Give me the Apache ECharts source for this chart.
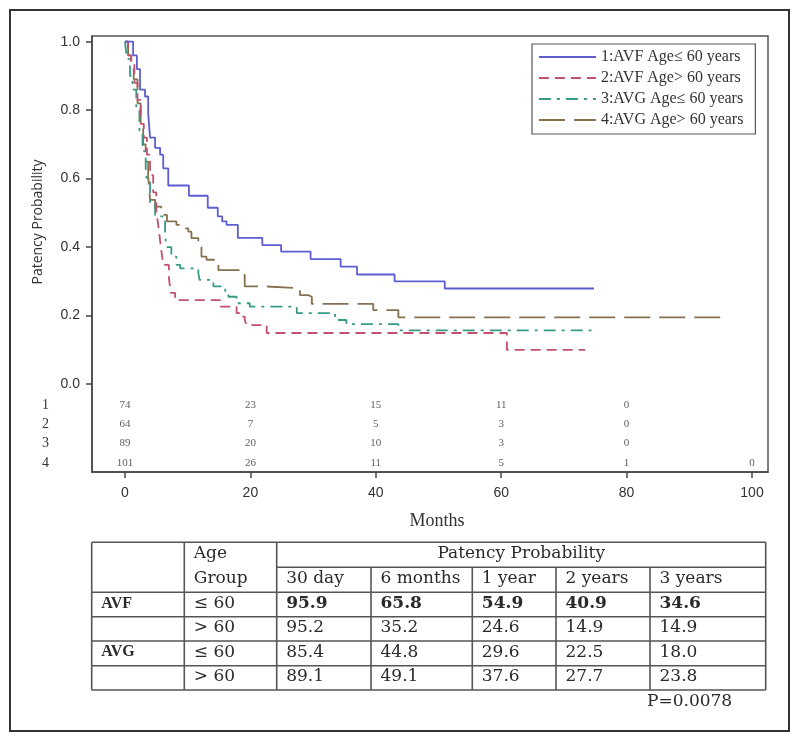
<!DOCTYPE html>
<html>
<head>
<meta charset="utf-8">
<script src="https://cdn.jsdelivr.net/npm/echarts@6/dist/echarts.min.js"></script>
<style>
html,body{margin:0;padding:0;background:#fff;}
#chart{width:800px;height:741px;}
</style>
</head>
<body>
<div id="chart"></div>
<script>
// ---- Kaplan-Meier curves (months, patency probability) ----
const seriesNames = ['1:AVF Age≤ 60 years', '2:AVF Age> 60 years', '3:AVG Age≤ 60 years', '4:AVG Age> 60 years'];

const avfYoungT = [0, 1.3, 1.9, 2.4, 3.2, 3.7, 4.0, 4.8, 5.6, 6.1, 6.9, 10.2, 13.2, 14.8, 15.5, 16.2, 18.0, 21.9, 24.9, 29.6, 34.4, 37.0, 43.0, 51.0, 74.8];
const avfYoungS = [1.0, 0.96, 0.92, 0.86, 0.84, 0.79, 0.72, 0.69, 0.67, 0.63, 0.58, 0.55, 0.515, 0.49, 0.475, 0.465, 0.427, 0.406, 0.387, 0.365, 0.343, 0.32, 0.30, 0.279, 0.279];

const avfOldT = [0, 0.5, 1.0, 1.5, 2.0, 2.5, 3.0, 3.5, 4.0, 4.5, 5.0, 5.3, 5.6, 5.8, 6.1, 7.0, 7.3, 8.0, 15.2, 17.8, 18.3, 19.1, 19.4, 22.6, 60.9, 73.4];
const avfOldS = [1.0, 0.96, 0.94, 0.88, 0.83, 0.76, 0.72, 0.67, 0.61, 0.56, 0.505, 0.465, 0.42, 0.39, 0.348, 0.31, 0.266, 0.245, 0.226, 0.207, 0.197, 0.187, 0.172, 0.149, 0.10, 0.10];

const avgYoungT = [0, 0.3, 0.8, 1.2, 1.8, 2.3, 2.8, 3.3, 3.5, 4.0, 4.8, 6.4, 6.6, 7.4, 8.2, 8.8, 11.7, 11.9, 14.1, 16.0, 16.5, 17.8, 19.9, 27.4, 33.5, 35.3, 43.6, 74.4];
const avgYoungS = [1.0, 0.95, 0.90, 0.86, 0.80, 0.74, 0.68, 0.63, 0.59, 0.53, 0.49, 0.435, 0.40, 0.372, 0.348, 0.338, 0.324, 0.304, 0.285, 0.27, 0.255, 0.236, 0.226, 0.207, 0.187, 0.175, 0.157, 0.157];

const avgOldT = [0, 0.5, 1.0, 1.4, 2.0, 2.5, 2.9, 3.3, 3.7, 4.0, 4.8, 5.8, 6.7, 8.2, 8.8, 10.1, 10.6, 11.7, 12.2, 13.0, 14.4, 14.9, 18.5, 19.1, 22.6, 27.9, 29.2, 29.8, 39.6, 43.6, 96.2];
const avgOldS = [1.0, 0.96, 0.93, 0.89, 0.82, 0.76, 0.70, 0.65, 0.606, 0.538, 0.518, 0.494, 0.475, 0.465, 0.455, 0.445, 0.426, 0.40, 0.372, 0.363, 0.353, 0.333, 0.319, 0.285, 0.28, 0.26, 0.255, 0.234, 0.216, 0.195, 0.195];

// ---- number at risk ----
const riskTimes = [0, 20, 40, 60, 80, 100];
const riskRowLabels = ['1', '2', '3', '4'];
const risk1 = [74, 23, 15, 11, 0];
const risk2 = [64, 7, 5, 3, 0];
const risk3 = [89, 20, 10, 3, 0];
const risk4 = [101, 26, 11, 5, 1, 0];

// ---- axis ticks ----
const yTicks = [0, 0.2, 0.4, 0.6, 0.8, 1.0];
const xTicks = [0, 20, 40, 60, 80, 100];

// ---- summary table ----
const tableGroups = ['AVF', '', 'AVG', ''];
const tableAges = ['≤ 60', '> 60', '≤ 60', '> 60'];
const tableTimepoints = ['30 day', '6 months', '1 year', '2 years', '3 years'];
const tableRow1 = ['95.9', '65.8', '54.9', '40.9', '34.6'];
const tableRow2 = ['95.2', '35.2', '24.6', '14.9', '14.9'];
const tableRow3 = ['85.4', '44.8', '29.6', '22.5', '18.0'];
const tableRow4 = ['89.1', '49.1', '37.6', '27.7', '23.8'];
const pValueText = 'P=0.0078';

// ================= build =================
const colors = ['#5d5dd2', '#c4506c', '#389a86', '#85704f'];
const dashes = ['solid', [10, 6], [12, 6, 3, 6], [26, 9]];
const curves = [
  [avfYoungT, avfYoungS], [avfOldT, avfOldS], [avgYoungT, avgYoungS], [avgOldT, avgOldS]
];

// at-risk rows placed below 0 on the value axis
const riskRowY = [-0.061, -0.1175, -0.174, -0.2305];
const riskRows = [risk1, risk2, risk3, risk4];
const riskData = [];
riskRows.forEach((row, r) => {
  row.forEach((n, i) => riskData.push([riskTimes[i], riskRowY[r], n]));
});

const lineSeries = curves.map((c, k) => ({
  name: seriesNames[k],
  type: 'line',
  step: 'end',
  symbol: 'none',
  data: c[0].map((t, i) => [t, c[1][i]]),
  lineStyle: { color: colors[k], width: 1.8, type: dashes[k] },
  itemStyle: { color: colors[k] },
  z: 5 - k
}));

const serif = "'DejaVu Serif', serif";
const tnr = "'Liberation Serif', serif";

// table graphics
const colX = [91.7, 184.3, 276.7, 371, 472.3, 556, 650, 765.7];
const rowY = [542.3, 567.3, 592.3, 616.7, 641, 665.7, 690];
const g = [];
const lineStyleT = { stroke: '#555', lineWidth: 1.6 };
function hline(x1, x2, y) { g.push({ type: 'line', shape: { x1, y1: y, x2, y2: y }, style: lineStyleT, silent: true }); }
function vline(x, y1, y2) { g.push({ type: 'line', shape: { x1: x, y1, x2: x, y2 }, style: lineStyleT, silent: true }); }
function txt(s, x, y, opts) {
  g.push({ type: 'text', x, y, silent: true,
    style: Object.assign({ text: s, font: '17px ' + serif, fill: '#2a2a2a', textAlign: 'left', textVerticalAlign: 'middle' }, opts || {}) });
}
hline(colX[0], colX[7], rowY[0]);
hline(colX[2], colX[7], rowY[1]);
for (let r = 2; r < rowY.length; r++) hline(colX[0], colX[7], rowY[r]);
vline(colX[0], rowY[0], rowY[6]);
vline(colX[1], rowY[0], rowY[6]);
vline(colX[2], rowY[0], rowY[6]);
for (let c = 3; c < 7; c++) vline(colX[c], rowY[1], rowY[6]);
vline(colX[7], rowY[0], rowY[6]);
const pad = 9.5;
const mid = (a, b) => (a + b) / 2;
txt('Age', colX[1] + pad, mid(rowY[0], rowY[1]) - 1);
txt('Group', colX[1] + pad, mid(rowY[1], rowY[2]) - 1);
txt('Patency Probability', mid(colX[2], colX[7]), mid(rowY[0], rowY[1]) - 1, { textAlign: 'center' });
tableTimepoints.forEach((s, i) => txt(s, colX[2 + i] + pad, mid(rowY[1], rowY[2]) - 1));
const tRows = [tableRow1, tableRow2, tableRow3, tableRow4];
tRows.forEach((row, r) => {
  const yc = mid(rowY[2 + r], rowY[3 + r]) - 1;
  const bold = r === 0;
  if (tableGroups[r]) txt(tableGroups[r], colX[0] + pad, yc, { font: 'bold 16px ' + tnr });
  txt(tableAges[r], colX[1] + pad, yc);
  row.forEach((v, i) => txt(v, colX[2 + i] + pad, yc, bold ? { font: 'bold 17px ' + serif } : {}));
});
txt(pValueText, 647, 702);
// y axis title
g.push({ type: 'text', x: 38, y: 222, rotation: Math.PI / 2, silent: true,
  style: { text: 'Patency Probability', font: "14px 'Open Sans', sans-serif", fill: '#333', textAlign: 'center', textVerticalAlign: 'middle' } });
// outer frame
g.push({ type: 'rect', shape: { x: 10, y: 10, width: 779, height: 721 }, style: { fill: 'none', stroke: '#333', lineWidth: 2 }, silent: true });

const yLabelValues = yTicks.concat(riskRowY);

const option = {
  backgroundColor: '#fff',
  animation: false,
  grid: { left: 92, top: 36, right: 32, bottom: 269, show: true, borderColor: '#555', borderWidth: 1.5, containLabel: false },
  legend: {
    show: true,
    data: seriesNames.map(n => ({ name: n })),
    orient: 'vertical',
    left: 532, top: 44,
    itemWidth: 57, itemHeight: 14, itemGap: 5,
    padding: [5, 12, 6, 6],
    borderColor: '#555', borderWidth: 1.2,
    backgroundColor: '#fff',
    itemStyle: { opacity: 0 },
    lineStyle: { width: 1.8 },
    textStyle: { fontFamily: tnr, fontSize: 16, color: '#333' },
    selectedMode: false
  },
  xAxis: {
    type: 'value', min: -5.26, max: 102.55,
    name: 'Months', nameLocation: 'middle', nameGap: 40,
    nameTextStyle: { fontFamily: tnr, fontSize: 18, color: '#333', padding: [0, 0, 0, 14] },
    axisLine: { show: true, onZero: false, lineStyle: { color: '#444', width: 1.5 } },
    axisTick: { show: true, customValues: xTicks, length: 6, lineStyle: { color: '#444', width: 1.5 } },
    axisLabel: { customValues: xTicks, margin: 14, fontFamily: "'Liberation Sans', sans-serif", fontSize: 14, color: '#333' },
    splitLine: { show: false }
  },
  yAxis: {
    type: 'value', min: -0.257, max: 1.0167,
    axisLine: { show: true, onZero: false, lineStyle: { color: '#444', width: 1.5 } },
    axisTick: { show: true, customValues: yTicks, length: 6, lineStyle: { color: '#444', width: 1.5 } },
    axisLabel: {
      customValues: yLabelValues, margin: 12,
      fontFamily: "'Liberation Sans', sans-serif", fontSize: 14, color: '#333',
      formatter: function (v) {
        for (let i = 0; i < riskRowY.length; i++) {
          if (Math.abs(v - riskRowY[i]) < 1e-6) return '{r|' + riskRowLabels[i] + '}';
        }
        return v.toFixed(1);
      },
      rich: { r: { fontFamily: tnr, fontSize: 14, color: '#333', padding: [0, 31, 0, 0] } }
    },
    splitLine: { show: false }
  },
  series: lineSeries.concat([{
    name: 'atrisk', type: 'scatter', data: riskData, symbolSize: 1,
    itemStyle: { color: 'rgba(0,0,0,0)' }, silent: true,
    label: { show: true, position: 'inside', formatter: p => String(p.data[2]), fontFamily: tnr, fontSize: 11, color: '#333' }
  }]),
  graphic: g
};

const chart = echarts.init(document.getElementById('chart'), null, { renderer: 'canvas' });
chart.setOption(option);
</script>
</body>
</html>
